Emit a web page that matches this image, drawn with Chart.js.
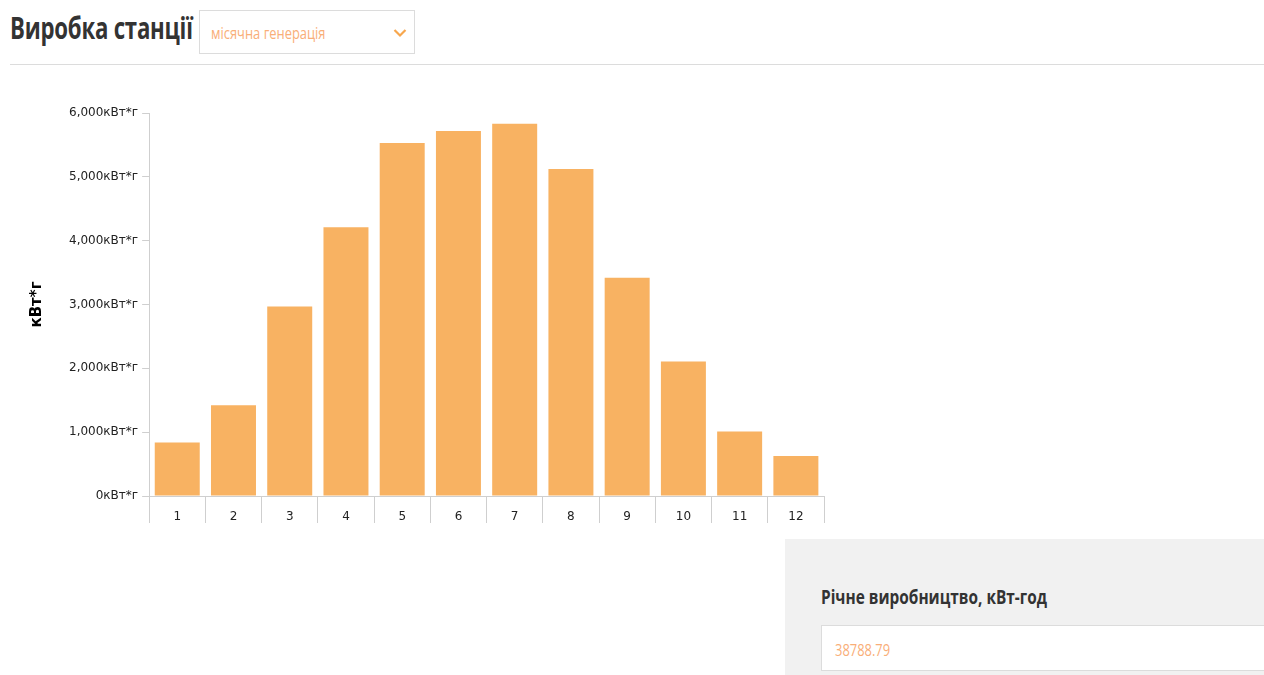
<!DOCTYPE html>
<html>
<head>
<meta charset="utf-8">
<script src="https://cdn.jsdelivr.net/npm/chart.js@4/dist/chart.umd.min.js"></script>
<style>
  html,body{margin:0;padding:0;background:#fff;width:1264px;height:675px;overflow:hidden;font-family:"Open Sans",sans-serif;}
  .title{position:absolute;left:10px;top:7px;font-size:30px;font-weight:700;color:#333;transform:scaleX(0.74);transform-origin:left top;white-space:nowrap;letter-spacing:-0.3px;}
  .select{position:absolute;left:199px;top:10px;width:216px;height:44px;border:1px solid #dcdcdc;box-sizing:border-box;}
  .select span{position:absolute;left:11px;top:10px;font-size:17px;color:#f9ae78;transform:scaleX(0.76);transform-origin:left top;white-space:nowrap;}
  .select svg{position:absolute;left:193px;top:17px;}
  .hr{position:absolute;left:10px;right:0;top:64px;height:1px;background:#dcdcdc;}
  .wrap{position:absolute;left:0;top:100px;width:840px;height:430px;}
  .panel{position:absolute;left:785px;top:539px;right:0;bottom:0;background:#f1f1f1;}
  .panel .lbl{position:absolute;left:36px;top:44px;font-size:20px;font-weight:700;color:#333;transform:scaleX(0.77);transform-origin:left top;white-space:nowrap;}
  .panel .inp{position:absolute;left:36px;top:86px;right:-2px;height:46px;background:#fff;border:1px solid #dcdcdc;box-sizing:border-box;}
  .panel .inp span{position:absolute;left:13px;top:12px;font-size:17px;color:#f9ae78;transform:scaleX(0.76);transform-origin:left top;}
</style>
</head>
<body>
<div class="title">Виробка станції</div>
<div class="select"><span>місячна генерація</span>
  <svg width="14" height="10" viewBox="0 0 14 10"><polyline points="1.5,2 7,7.5 12.5,2" fill="none" stroke="#f7a74e" stroke-width="2.2"/></svg>
</div>
<div class="hr"></div>
<div class="wrap"><canvas id="c"></canvas></div>
<div class="panel">
  <div class="lbl">Річне виробництво, кВт-год</div>
  <div class="inp"><span id="total">38788.79</span></div>
</div>
<script>
const months = ['1','2','3','4','5','6','7','8','9','10','11','12'];
const generation = [840, 1420, 2970, 4210, 5530, 5718, 5832, 5124, 3418, 2108, 1012, 626];
const unit = 'кВт*г';
const yMax = 6000;
const yStep = 1000;

// draws the category labels inside the tick band of the x axis
const innerXLabels = {
  id: 'innerXLabels',
  afterDraw(chart) {
    const sx = chart.scales.x;
    const ctx = chart.ctx;
    ctx.save();
    ctx.fillStyle = '#222';
    ctx.font = '12px "DejaVu Sans"';
    ctx.textAlign = 'center';
    ctx.textBaseline = 'middle';
    chart.data.labels.forEach((lab, i) => {
      ctx.fillText(lab, sx.getPixelForTick(i), sx.top + 21);
    });
    ctx.restore();
  }
};

new Chart(document.getElementById('c'), {
  type: 'bar',
  data: {
    labels: months,
    datasets: [{
      data: generation,
      backgroundColor: '#f8b262',
      borderWidth: 0,
      barPercentage: 0.8,
      categoryPercentage: 1.0
    }]
  },
  options: {
    responsive: true,
    maintainAspectRatio: false,
    animation: false,
    layout: { padding: { left: 22, right: 16, top: 13, bottom: 7 } },
    plugins: { legend: { display: false }, tooltip: { enabled: false } },
    scales: {
      x: {
        offset: true,
        grid: { offset: true, drawOnChartArea: false, drawTicks: true, tickLength: 27, color: '#cfcfcf', tickColor: '#cfcfcf' },
        border: { color: '#cfcfcf' },
        ticks: { display: false }
      },
      y: {
        z: 1,
        min: 0, max: yMax,
        grid: { color: 'rgba(255,255,255,0.18)', tickColor: '#cfcfcf', tickLength: 7, drawTicks: true },
        border: { color: '#cfcfcf' },
        ticks: {
          stepSize: yStep, padding: 4, color: '#222',
          font: { family: 'DejaVu Sans', size: 12 },
          callback: v => v.toLocaleString('en-US') + unit
        },
        title: { display: true, text: unit, color: '#000', font: { family: 'DejaVu Sans', size: 15, weight: 'bold' }, padding: { top: 6, bottom: 19 } }
      }
    }
  },
  plugins: [innerXLabels]
});
</script>
</body>
</html>
